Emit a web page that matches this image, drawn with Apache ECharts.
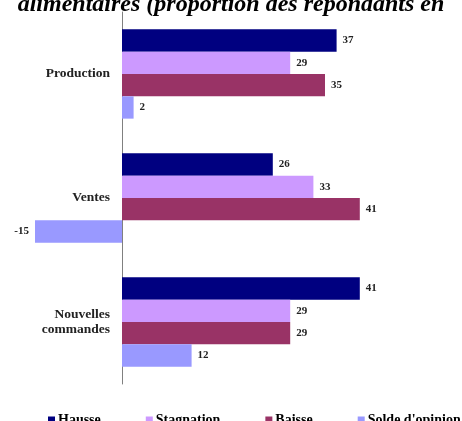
<!DOCTYPE html>
<html>
<head>
<meta charset="utf-8">
<script src="https://cdn.jsdelivr.net/npm/echarts@6/dist/echarts.min.js"></script>
<style>
html, body { margin: 0; padding: 0; background: #fff; }
#chart { width: 462px; height: 421px; }
</style>
</head>
<body>
<div id="chart"></div>
<script>
var categories = ['Production', 'Ventes', 'Nouvelles\ncommandes'];
var hausse = [37, 26, 41];
var stagnation = [29, 33, 29];
var baisse = [35, 41, 29];
var solde = [2, -15, 12];
var seriesNames = ['Hausse', 'Stagnation', 'Baisse', "Solde d'opinion"];
var titleText = 'alimentaires (proportion des répondants en';

var serif = '"Liberation Serif", "DejaVu Serif", serif';
var xMin = -20, xMax = 50;
var gridLeft = 6, gridRight = 50;

function withLabels(values) {
    return values.map(function (v) {
        return { value: v, label: { position: v < 0 ? 'left' : 'right' } };
    });
}

function barSeries(name, values, color) {
    return {
        name: name,
        type: 'bar',
        barGap: '0%',
        barCategoryGap: '28%',
        itemStyle: { color: color },
        label: {
            show: true,
            distance: 6,
            fontFamily: serif,
            fontWeight: 'bold',
            fontSize: 11,
            color: '#222'
        },
        data: withLabels(values)
    };
}

// shift the category axis onto x = 0 (labels included)
var plotWidth = 462 - gridLeft - gridRight;
var zeroOffset = -(0 - xMin) / (xMax - xMin) * plotWidth;

var myChart = echarts.init(document.getElementById('chart'));
var option = {
    animation: false,
    color: ['#000080', '#cc99ff', '#993366', '#9999ff'],
    graphic: [{
        type: 'text',
        left: 'center',
        top: -7,
        style: {
            text: titleText,
            font: 'italic bold 24px ' + serif,
            fill: '#000'
        }
    }],
    legend: {
        data: seriesNames,
        left: 48,
        top: 413,
        width: 414,
        padding: 0,
        itemWidth: 7,
        itemHeight: 7,
        itemGap: 45,
        icon: 'rect',
        textStyle: {
            fontFamily: serif,
            fontWeight: 'bold',
            fontSize: 14,
            color: '#000',
            padding: [0, 0, 0, -2]
        }
    },
    grid: {
        left: gridLeft,
        right: gridRight,
        top: 12,
        bottom: 37,
        containLabel: false,
        outerBoundsMode: 'none'
    },
    xAxis: {
        type: 'value',
        min: xMin,
        max: xMax,
        show: false
    },
    yAxis: {
        type: 'category',
        inverse: true,
        position: 'left',
        offset: zeroOffset,
        data: categories,
        axisLine: { onZero: false, lineStyle: { color: '#808080', width: 1 } },
        axisTick: { length: 4, lineStyle: { color: '#808080' } },
        axisLabel: {
            margin: 12,
            fontFamily: serif,
            fontWeight: 'bold',
            fontSize: 13.5,
            lineHeight: 15,
            color: '#222'
        }
    },
    series: [
        barSeries(seriesNames[0], hausse, '#000080'),
        barSeries(seriesNames[1], stagnation, '#cc99ff'),
        barSeries(seriesNames[2], baisse, '#993366'),
        barSeries(seriesNames[3], solde, '#9999ff')
    ]
};
myChart.setOption(option);
</script>
</body>
</html>
